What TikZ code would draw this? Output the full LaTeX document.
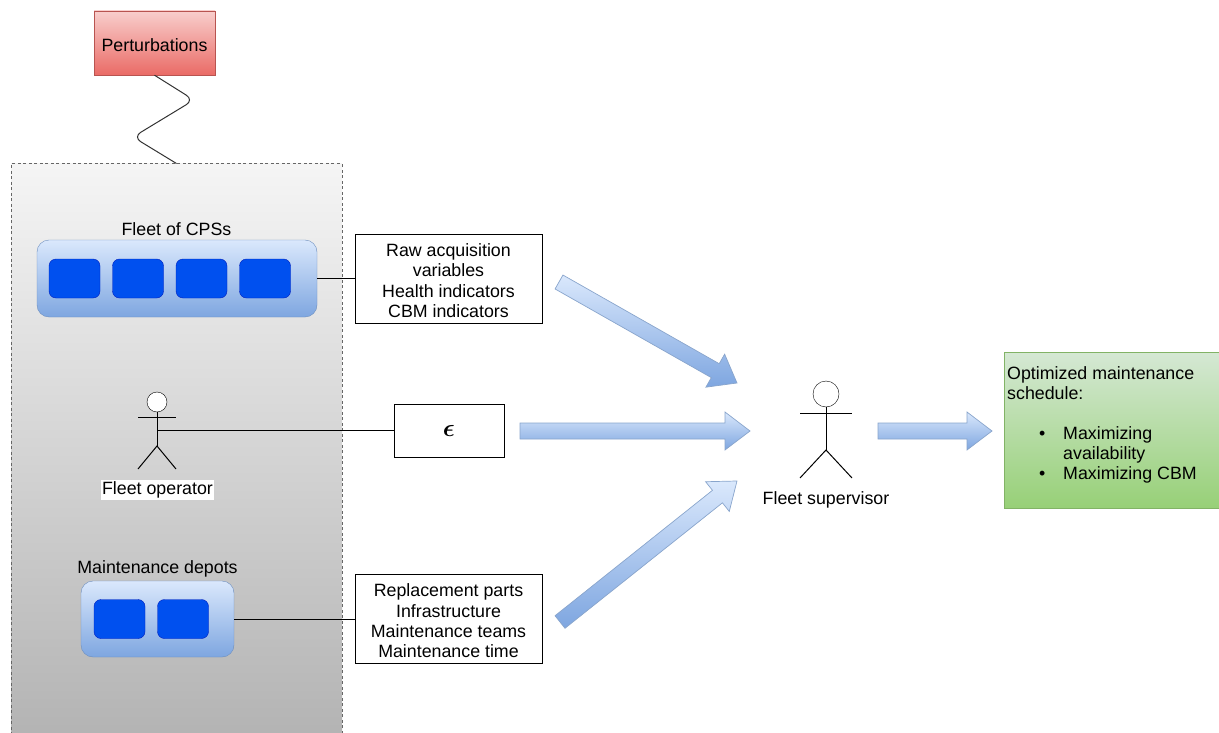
\documentclass[tikz,border=0pt]{standalone}
\usepackage{amsmath,amssymb}
\usepackage{fontspec}
\setmainfont{Liberation Sans}
\usetikzlibrary{calc}
\definecolor{greytop}{HTML}{F5F5F5}
\definecolor{greybot}{HTML}{B3B3B3}
\definecolor{redtop}{HTML}{F8CECC}
\definecolor{redbot}{HTML}{EA6B66}
\definecolor{redline}{HTML}{B85450}
\definecolor{bluetop}{HTML}{DAE8FC}
\definecolor{bluebot}{HTML}{7EA6E0}
\definecolor{blueline}{HTML}{6C8EBF}
\definecolor{unitfill}{HTML}{0050EF}
\definecolor{unitline}{HTML}{001DBC}
\definecolor{greentop}{HTML}{D5E8D4}
\definecolor{greenbot}{HTML}{97D077}
\definecolor{greenline}{HTML}{82B366}
\tikzset{
  every node/.style={font=\fontsize{17.8}{20.3}\selectfont, inner sep=0pt},
  wire/.style={line width=1pt},
  groupbox/.style={draw=blueline, top color=bluetop, bottom color=bluebot, rounded corners=12pt},
  unitbox/.style={draw=unitline, fill=unitfill, rounded corners=7pt, minimum width=51pt, minimum height=39pt},
  infobox/.style={draw, fill=white, align=center, line width=1pt},
  fatarrow/.style={draw=blueline!80, top color=bluetop, bottom color=bluebot, line width=0.7pt},
}
\newcommand{\fatarrow}[2]{
  \draw [fatarrow] ($(#1)!8pt!90:(#2)$) -- ($(#2)!25pt!(#1)!8pt!90:(#2)$) -- ($(#2)!25pt!(#1)!19pt!90:(#2)$) -- (#2)
    -- ($(#2)!25pt!(#1)!19pt!-90:(#2)$) -- ($(#2)!25pt!(#1)!8pt!-90:(#2)$) -- ($(#1)!8pt!-90:(#2)$) -- cycle;
}
\newcommand{\bulletline}[2]{\makebox[56pt][l]{\hspace{32pt}#1}#2}
\newcommand{\topgap}{\rule{0pt}{17pt}}
\begin{document}
\begin{tikzpicture}[x=1pt,y=-1pt]
\useasboundingbox (0,0) rectangle (1219,733);
\node [draw=black!60, dash pattern=on 3pt off 2.5pt, line width=1pt, top color=greytop, bottom color=greybot, minimum width=331pt, minimum height=574pt] (fleetbox) at (176.5,451) {};
\node [draw=redline, top color=redtop, bottom color=redbot, minimum width=121pt, minimum height=64pt] (pert) at (154.5,43) {\topgap Perturbations};
\draw [black!80, line width=1pt, rounded corners=9pt] (pert.south) -- (194,100) -- (133,137) -- (fleetbox.north);

% fleet of CPSs
\node [groupbox, minimum width=280pt, minimum height=77pt] (fleet) at (177,278.5) {};
\node (fleetlabel) at (176.5,229.5) {Fleet of CPSs};
\foreach \i in {1,...,4}
  \node [unitbox] (cps\i) at ({74.5+63.5*(\i-1)},278.5) {};
\node [infobox, minimum width=187pt, minimum height=89pt] (raw) at (448.5,278.5) {\topgap Raw acquisition\\variables\\Health indicators\\CBM indicators};
\draw [wire] (fleet.east) -- (raw.west);

% fleet operator
\node [draw, fill=white, circle, minimum size=20pt] (ophead) at (157,402) {};
\coordinate (ophip) at (157,446);
\draw [wire] (ophead.south) -- (ophip);
\draw [wire] (138,417) -- (176,417);
\draw [wire] (138,469) -- (ophip) -- (176,469);
\node [fill=white, inner sep=1.5pt] (oplabel) at (157.5,490) {Fleet operator};
\coordinate (opwire) at (157,430.5);
\node [infobox, minimum width=110pt, minimum height=53pt, font=\fontsize{28}{30}\selectfont] (eps) at (449,430.5) {$\boldsymbol{\epsilon}$};
\draw [wire] (opwire) -- (eps.west);

% maintenance depots
\node [groupbox, minimum width=153pt, minimum height=76pt] (depots) at (157.5,619) {};
\node (depotlabel) at (157.5,568.5) {Maintenance depots};
\foreach \i in {1,2}
  \node [unitbox] (depot\i) at ({119.5+63.5*(\i-1)},619) {};
\node [infobox, minimum width=187pt, minimum height=89pt] (parts) at (448.5,619) {\topgap Replacement parts\\Infrastructure\\Maintenance teams\\Maintenance time};
\draw [wire] (depots.east) -- (parts.west);

% fleet supervisor
\node [draw, circle, minimum size=26pt] (suphead) at (826,394) {};
\coordinate (suphip) at (826,450);
\draw [wire] (suphead.south) -- (suphip);
\draw [wire] (800,413) -- (852,413);
\draw [wire] (800,478) -- (suphip) -- (852,478);
\node (suplabel) at (826,499.5) {Fleet supervisor};

% result
\node [draw=greenline, top color=greentop, bottom color=greenbot, minimum width=215pt, minimum height=156pt] (result) at (1111.5,430) {};
\node [anchor=north west, align=left] (resulttext) at (1007,366) {Optimized maintenance\\schedule:\\[19.5pt]\bulletline{\textbullet}{Maximizing}\\\bulletline{}{availability}\\\bulletline{\textbullet}{Maximizing CBM}};

% block arrows
\coordinate (rawtail) at (559,282);
\coordinate (rawtip) at (737,383);
\coordinate (epstail) at (520,431);
\coordinate (epstip) at (750,431);
\coordinate (partstail) at (560,622);
\coordinate (partstip) at (737,481);
\coordinate (suptail) at (878,431);
\coordinate (suptip) at (992,431);
\fatarrow{rawtail}{rawtip}
\fatarrow{epstail}{epstip}
\fatarrow{partstail}{partstip}
\fatarrow{suptail}{suptip}
\end{tikzpicture}
\end{document}
